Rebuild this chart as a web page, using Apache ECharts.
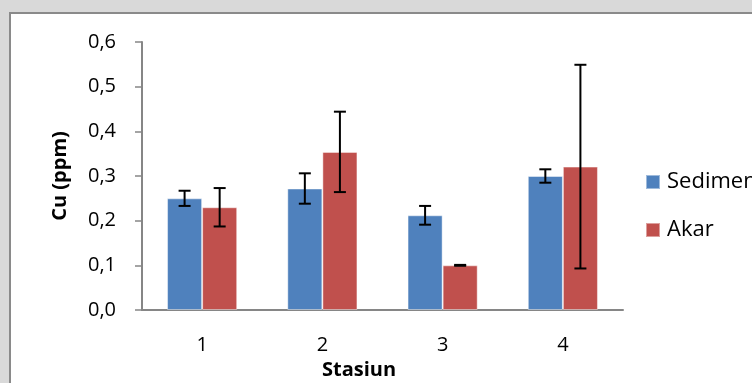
<!DOCTYPE html>
<html>
<head>
<meta charset="utf-8">
<script src="https://cdn.jsdelivr.net/npm/echarts@6/dist/echarts.min.js"></script>
<style>
  html, body { margin: 0; padding: 0; background: #d9d9d9; }
  #chart { width: 752px; height: 383px; }
</style>
</head>
<body>
<div id="chart"></div>
<script>
// Cu concentration per station, with standard deviation
const stations = ['1', '2', '3', '4'];
const sedimen = [0.25, 0.272, 0.212, 0.30];
const sedimenErr = [0.017, 0.034, 0.021, 0.015];
const akar = [0.23, 0.354, 0.10, 0.321];
const akarErr = [0.043, 0.09, 0.001, 0.228];
const yTicks = [0, 0.1, 0.2, 0.3, 0.4, 0.5, 0.6];

const FONT = '"Open Sans", "Liberation Sans", sans-serif';
const GAP = 0.4167; // share of category width left empty

function errData(vals, errs) {
  return vals.map((v, i) => [i, v - errs[i], v + errs[i]]);
}

// draws a vertical whisker with caps, shifted onto its bar (side -1 = left bar, +1 = right bar)
function errRenderer(side) {
  return function (params, api) {
    const catW = api.size([1, 0])[0];
    const barW = catW * (1 - GAP) / 2;
    const lo = api.coord([api.value(0), api.value(1)]);
    const hi = api.coord([api.value(0), api.value(2)]);
    const x = lo[0] + side * barW / 2;
    const cap = 6;
    const style = { stroke: '#000', lineWidth: 2 };
    return {
      type: 'group',
      children: [
        { type: 'line', shape: { x1: x, y1: hi[1], x2: x, y2: lo[1] }, style },
        { type: 'line', shape: { x1: x - cap, y1: hi[1], x2: x + cap, y2: hi[1] }, style },
        { type: 'line', shape: { x1: x - cap, y1: lo[1], x2: x + cap, y2: lo[1] }, style }
      ]
    };
  };
}

const chart = echarts.init(document.getElementById('chart'), null, { renderer: 'canvas' });
chart.setOption({
  backgroundColor: '#d9d9d9',
  animation: false,
  graphic: [
    {
      type: 'rect', z: -10, silent: true,
      shape: { x: 10, y: 13, width: 800, height: 420 },
      style: { fill: '#ffffff', stroke: '#8a8a8a', lineWidth: 2 }
    },
    {
      type: 'text', left: 360 - 38, top: 360,
      style: { text: 'Stasiun', font: 'bold 20px ' + FONT, fill: '#000' }
    }
  ],
  grid: { left: 142, right: 129, top: 42, bottom: 73, containLabel: false },
  legend: {
    orient: 'vertical', left: 640, top: 166,
    itemWidth: 14, itemHeight: 14, itemGap: 26,
    icon: 'rect',
    data: ['Sedimen', 'Akar'],
    textStyle: { fontFamily: FONT, fontSize: 22, color: '#000', padding: [0, 0, 0, 2], lineHeight: 22 }
  },
  xAxis: {
    type: 'category',
    data: stations,
    axisLine: { lineStyle: { color: '#868686', width: 2 } },
    axisTick: { show: false },
    axisLabel: { fontFamily: FONT, fontSize: 20, color: '#000', margin: 25 }
  },
  yAxis: {
    type: 'value',
    min: 0, max: 0.6, interval: 0.1,
    name: 'Cu (ppm)',
    nameLocation: 'middle',
    nameGap: 72,
    nameTextStyle: { fontFamily: FONT, fontSize: 20, fontWeight: 'bold', color: '#000' },
    axisLine: { show: true, lineStyle: { color: '#868686', width: 2 } },
    axisTick: { show: true, length: 7, lineStyle: { color: '#868686', width: 1.5 } },
    splitLine: { show: false },
    axisLabel: {
      fontFamily: FONT, fontSize: 20, color: '#000', margin: 26,
      formatter: v => {
        const t = yTicks.find(y => Math.abs(y - v) < 1e-9);
        return (t !== undefined ? t : v).toFixed(1).replace('.', ',');
      }
    }
  },
  series: [
    {
      name: 'Sedimen', type: 'bar', data: sedimen,
      barGap: '0%', barCategoryGap: (GAP * 100) + '%',
      itemStyle: { color: '#4F81BD', borderColor: 'rgba(255,255,255,0.45)', borderWidth: 1 }
    },
    {
      name: 'Akar', type: 'bar', data: akar,
      barGap: '0%', barCategoryGap: (GAP * 100) + '%',
      itemStyle: { color: '#C0504D', borderColor: 'rgba(255,255,255,0.45)', borderWidth: 1 }
    },
    {
      type: 'custom', name: 'Sedimen SD', data: errData(sedimen, sedimenErr),
      renderItem: errRenderer(-1), z: 5, silent: true,
      encode: { x: 0, y: [1, 2] }
    },
    {
      type: 'custom', name: 'Akar SD', data: errData(akar, akarErr),
      renderItem: errRenderer(1), z: 5, silent: true,
      encode: { x: 0, y: [1, 2] }
    }
  ]
});
</script>
</body>
</html>
